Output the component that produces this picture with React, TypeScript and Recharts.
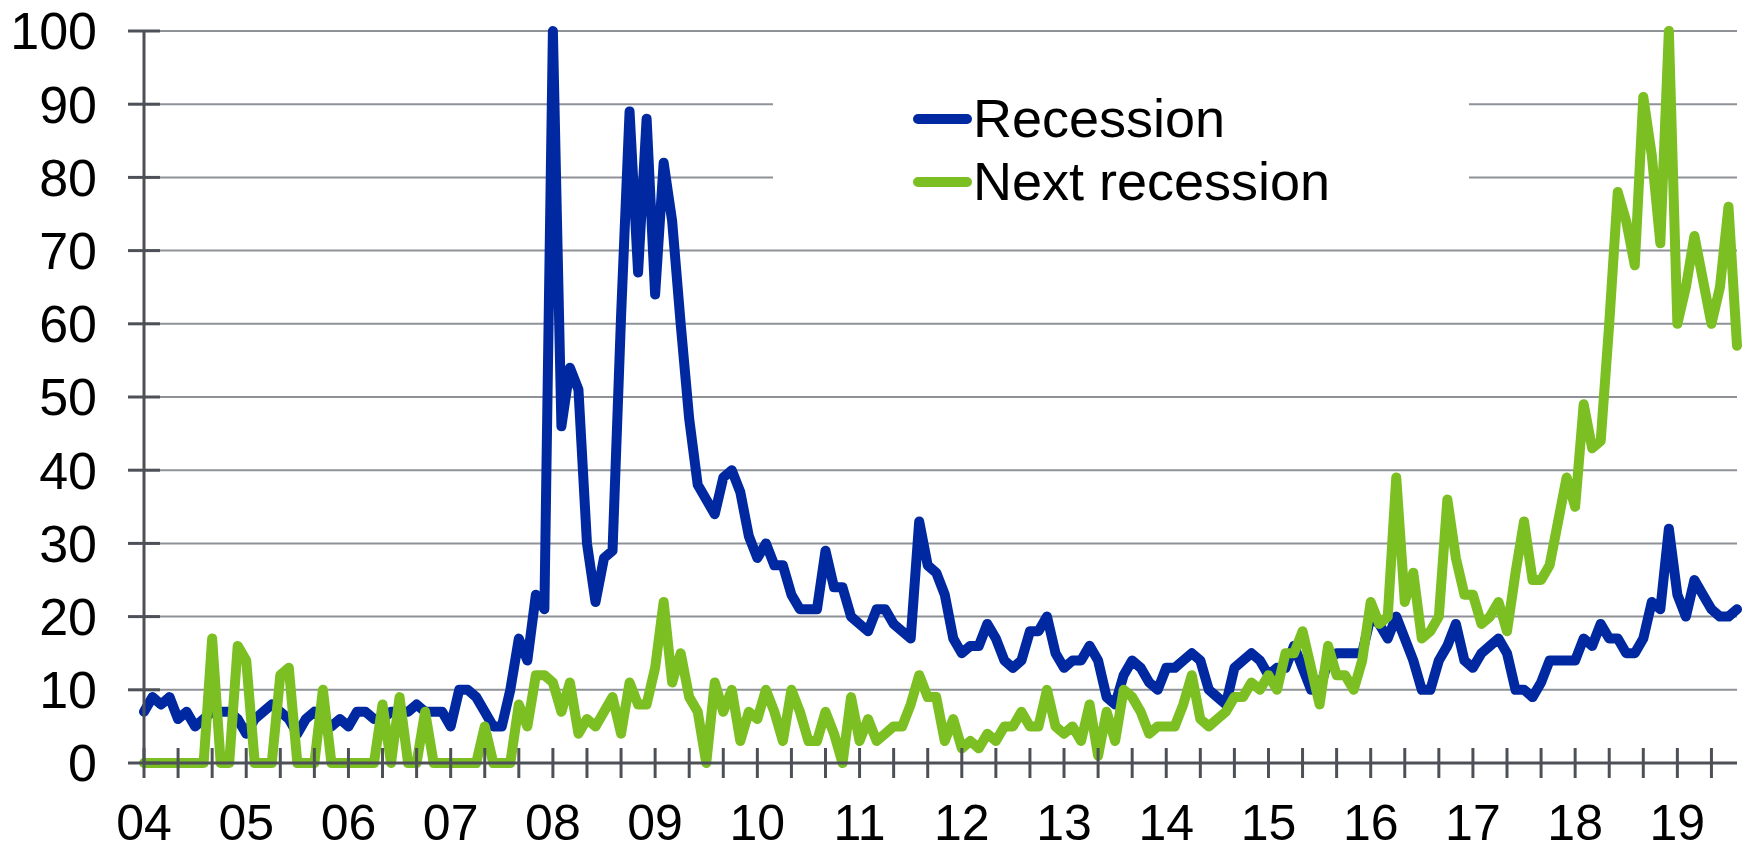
import { LineChart, Line, XAxis, YAxis, CartesianGrid, Legend } from "recharts";

// Google-Trends style search interest, monthly Jan 2004 - Aug 2019
const START_YEAR = 2004;
const YEAR_LABELS = ["04", "05", "06", "07", "08", "09", "10", "11", "12", "13", "14", "15", "16", "17", "18", "19"];
const Y_TICKS = [0, 10, 20, 30, 40, 50, 60, 70, 80, 90, 100];

const RECESSION = [
  7, 9, 8, 9, 6, 7, 5, 6, 7, 7, 7, 6,
  4, 6, 7, 8, 7, 6, 4, 6, 7, 6, 5, 6,
  5, 7, 7, 6, 6, 7, 7, 7, 8, 7, 7, 7,
  5, 10, 10, 9, 7, 5, 5, 10, 17, 14, 23, 21,
  100, 46, 54, 51, 30, 22, 28, 29, 61, 89, 67, 88,
  64, 82, 74, 60, 47, 38, 36, 34, 39, 40, 37, 31,
  28, 30, 27, 27, 23, 21, 21, 21, 29, 24, 24, 20,
  19, 18, 21, 21, 19, 18, 17, 33, 27, 26, 23, 17,
  15, 16, 16, 19, 17, 14, 13, 14, 18, 18, 20, 15,
  13, 14, 14, 16, 14, 9, 8, 12, 14, 13, 11, 10,
  13, 13, 14, 15, 14, 10, 9, 8, 13, 14, 15, 14,
  12, 13, 13, 16, 13, 10, 10, 14, 15, 15, 15, 15,
  20, 19, 17, 20, 17, 14, 10, 10, 14, 16, 19, 14,
  13, 15, 16, 17, 15, 10, 10, 9, 11, 14, 14, 14,
  14, 17, 16, 19, 17, 17, 15, 15, 17, 22, 21, 32,
  23, 20, 25, 23, 21, 20, 20, 21,
];

const NEXT_RECESSION = [
  0, 0, 0, 0, 0, 0, 0, 0, 17, 0, 0, 16,
  14, 0, 0, 0, 12, 13, 0, 0, 0, 10, 0, 0,
  0, 0, 0, 0, 8, 0, 9, 0, 0, 7, 0, 0,
  0, 0, 0, 0, 5, 0, 0, 0, 8, 5, 12, 12,
  11, 7, 11, 4, 6, 5, 7, 9, 4, 11, 8, 8,
  13, 22, 11, 15, 9, 7, 0, 11, 7, 10, 3, 7,
  6, 10, 7, 3, 10, 7, 3, 3, 7, 4, 0, 9,
  3, 6, 3, 4, 5, 5, 8, 12, 9, 9, 3, 6,
  2, 3, 2, 4, 3, 5, 5, 7, 5, 5, 10, 5,
  4, 5, 3, 8, 1, 7, 3, 10, 9, 7, 4, 5,
  5, 5, 8, 12, 6, 5, 6, 7, 9, 9, 11, 10,
  12, 10, 15, 15, 18, 13, 8, 16, 12, 12, 10, 14,
  22, 19, 20, 39, 22, 26, 17, 18, 20, 36, 28, 23,
  23, 19, 20, 22, 18, 26, 33, 25, 25, 27, 33, 39,
  35, 49, 43, 44, 60, 78, 74, 68, 91, 83, 71, 100,
  60, 65, 72, 66, 60, 65, 76, 57,
];

const MONTHS = RECESSION.map(
  (_, i) => `${START_YEAR + Math.floor(i / 12)}-${String((i % 12) + 1).padStart(2, "0")}`
);

const data = MONTHS.map((month, i) => ({
  month,
  recession: RECESSION[i],
  next: NEXT_RECESSION[i],
}));

const BLUE = "#0029a1";
const GREEN = "#7bbf22";
const AXIS = "#4d5157";
const GRID = "#8e9297";
const FONT = '"Liberation Sans", Arial, sans-serif';

const PLOT_LEFT = 144;
const X_OFFSET = 41; // tickSize + tickMargin on the x axis
const Y_OFFSET = 47; // tickSize + tickMargin on the y axis

const XTick = ({ x, y, payload }: any) => {
  const axisY = y - X_OFFSET;
  const [yr, mo] = String(payload.value).split("-");
  return (
    <g>
      <line x1={x} x2={x} y1={axisY - 15} y2={axisY + 15} stroke={AXIS} strokeWidth={3} />
      {mo === "01" && (
        <text x={x} y={y} dy="0.71em" textAnchor="middle" fontSize={50} fontFamily={FONT} fill="#000">
          {YEAR_LABELS[Number(yr) - START_YEAR]}
        </text>
      )}
    </g>
  );
};

const YTick = ({ y, payload }: any) => (
  <g>
    <line x1={PLOT_LEFT - 16} x2={PLOT_LEFT + 16} y1={y} y2={y} stroke={AXIS} strokeWidth={3} />
    <text x={PLOT_LEFT - Y_OFFSET} y={y} dy="0.355em" textAnchor="end" fontSize={52} fontFamily={FONT} fill="#000">
      {payload.value}
    </text>
  </g>
);

const LEGEND_ROWS = [
  { label: "Recession", color: BLUE },
  { label: "Next recession", color: GREEN },
];

const LegendBox = () => (
  <svg width={696} height={160} style={{ display: "block", background: "#fff" }}>
    {LEGEND_ROWS.map((r, i) => (
      <g key={r.label}>
        <line x1={145} x2={194} y1={59 + i * 63} y2={59 + i * 63} stroke={r.color} strokeWidth={10} strokeLinecap="round" />
        <text x={200} y={77 + i * 63} fontSize={54} fontFamily={FONT} fill="#000">
          {r.label}
        </text>
      </g>
    ))}
  </svg>
);

export default function App() {
  return (
    <div style={{ position: "absolute", left: 0, top: 0, width: 1745, height: 849, background: "#fff" }}>
      <LineChart width={1745} height={849} data={data} margin={{ top: 31, right: 8, left: 0, bottom: 0 }}>
        <CartesianGrid horizontal vertical={false} stroke={GRID} strokeWidth={2} />
        <XAxis
          dataKey="month"
          interval={3}
          height={86}
          tickSize={15}
          tickMargin={26}
          tickLine={false}
          axisLine={{ stroke: AXIS, strokeWidth: 3 }}
          tick={<XTick />}
        />
        <XAxis xAxisId="top" dataKey="month" orientation="top" height={0} tick={false} tickLine={false} axisLine={{ stroke: AXIS, strokeWidth: 3 }} />
        <YAxis
          domain={[0, 100]}
          ticks={Y_TICKS}
          width={PLOT_LEFT}
          tickSize={16}
          tickMargin={31}
          tickLine={false}
          axisLine={{ stroke: AXIS, strokeWidth: 3 }}
          tick={<YTick />}
        />
        <YAxis yAxisId="right" orientation="right" domain={[0, 100]} width={0} tick={false} tickLine={false} axisLine={{ stroke: AXIS, strokeWidth: 3 }} />
        <Legend
          layout="vertical"
          align="center"
          verticalAlign="middle"
          content={<LegendBox />}
          wrapperStyle={{ position: "absolute", left: 773, top: 60, width: 696, height: 160 }}
        />
        <Line
          type="linear"
          dataKey="recession"
          name="Recession"
          stroke={BLUE}
          strokeWidth={10}
          strokeLinejoin="round"
          strokeLinecap="round"
          dot={false}
          isAnimationActive={false}
        />
        <Line
          type="linear"
          dataKey="next"
          name="Next recession"
          stroke={GREEN}
          strokeWidth={10}
          strokeLinejoin="round"
          strokeLinecap="round"
          dot={false}
          isAnimationActive={false}
        />
      </LineChart>
    </div>
  );
}
